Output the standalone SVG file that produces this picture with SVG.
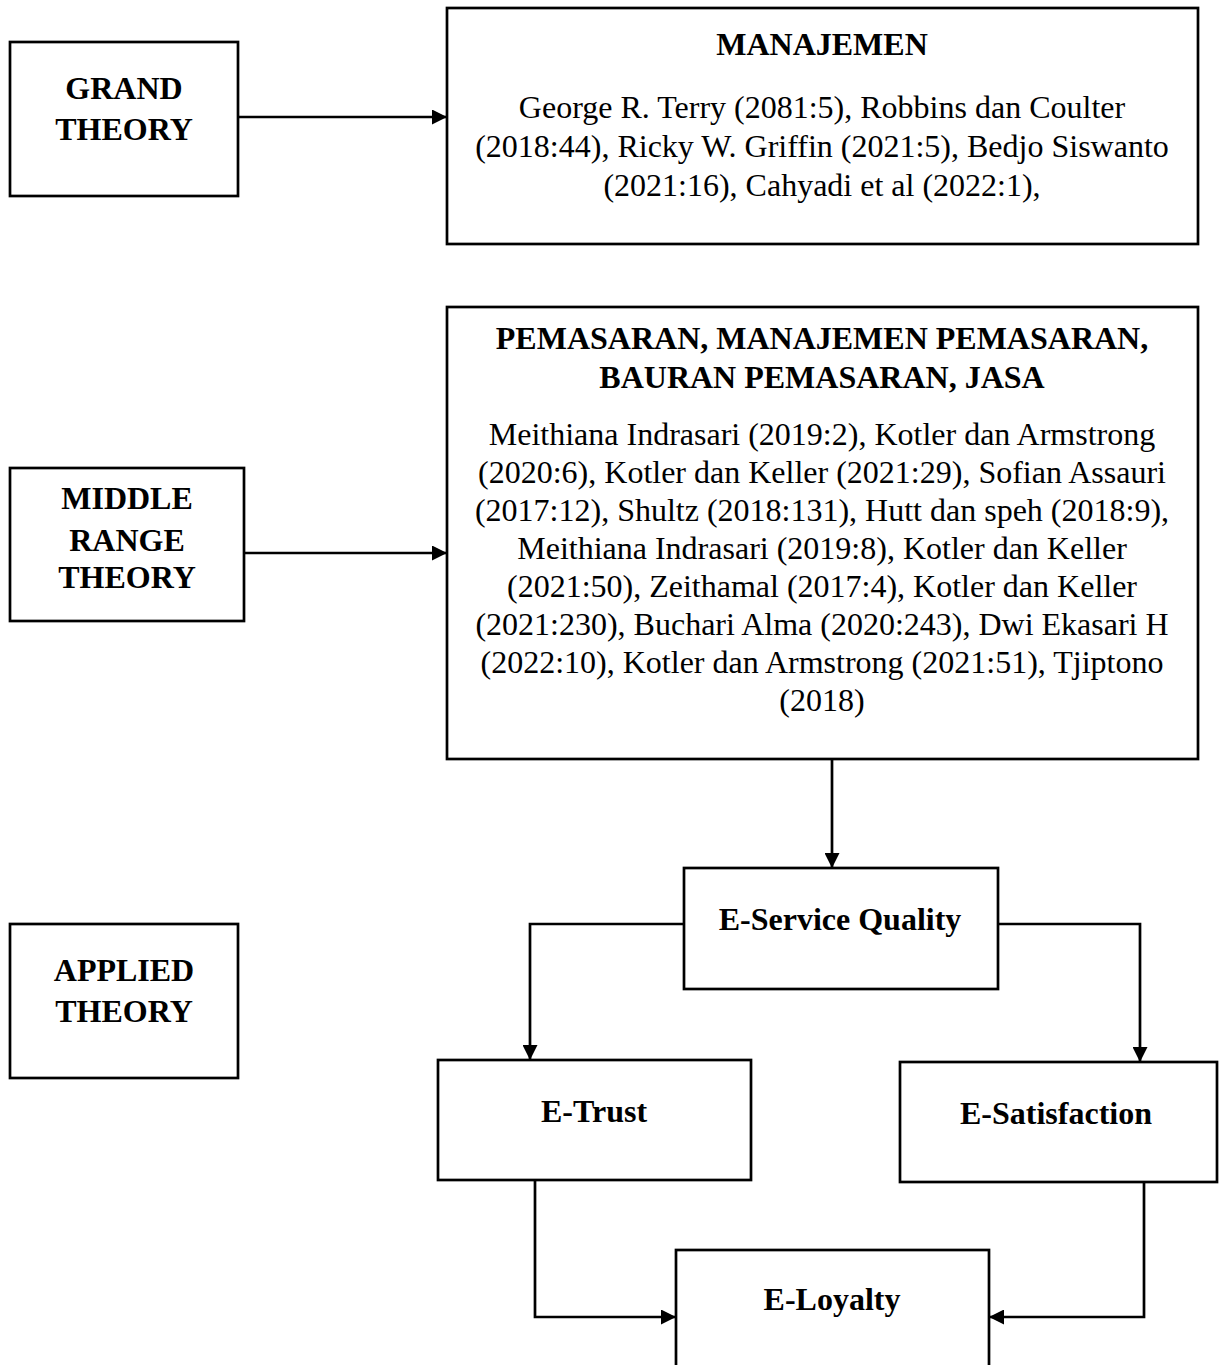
<svg xmlns="http://www.w3.org/2000/svg" width="1219" height="1365" viewBox="0 0 1219 1365">
<defs>
<style>
.box{fill:#fff;stroke:#000;stroke-width:2.7}
.t{font-family:"Liberation Serif","Times New Roman",serif;font-size:32px;fill:#000;text-anchor:middle}
.b{font-weight:bold}
.c{fill:none;stroke:#000;stroke-width:2.7}
</style>
<marker id="ah" viewBox="0 0 15 15" refX="15" refY="7.5" markerWidth="15" markerHeight="15" markerUnits="userSpaceOnUse" orient="auto">
<path d="M0,0 L15,7.5 L0,15 Z" fill="#000"/>
</marker>
</defs>
<g id="grand">
<rect class="box" x="10" y="42" width="228" height="154"/>
<text class="t b" x="124" y="99">GRAND</text>
<text class="t b" x="124" y="140">THEORY</text>
</g>
<g id="manajemen">
<rect class="box" x="447" y="8" width="751" height="236"/>
<text class="t b" x="822" y="55">MANAJEMEN</text>
<text class="t" x="822" y="118">George R. Terry (2081:5), Robbins dan Coulter</text>
<text class="t" x="822" y="157">(2018:44), Ricky W. Griffin (2021:5), Bedjo Siswanto</text>
<text class="t" x="822" y="196">(2021:16), Cahyadi et al (2022:1),</text>
</g>
<g id="middle">
<rect class="box" x="10" y="468" width="234" height="153"/>
<text class="t b" x="127" y="509">MIDDLE</text>
<text class="t b" x="127" y="551">RANGE</text>
<text class="t b" x="127" y="588">THEORY</text>
</g>
<g id="pemasaran">
<rect class="box" x="447" y="307" width="751" height="452"/>
<text class="t b" x="822" y="349">PEMASARAN, MANAJEMEN PEMASARAN,</text>
<text class="t b" x="822" y="388">BAURAN PEMASARAN, JASA</text>
<text class="t" x="822" y="445">Meithiana Indrasari (2019:2), Kotler dan Armstrong</text>
<text class="t" x="822" y="483">(2020:6), Kotler dan Keller (2021:29), Sofian Assauri</text>
<text class="t" x="822" y="521">(2017:12), Shultz (2018:131), Hutt dan speh (2018:9),</text>
<text class="t" x="822" y="559">Meithiana Indrasari (2019:8), Kotler dan Keller</text>
<text class="t" x="822" y="597">(2021:50), Zeithamal (2017:4), Kotler dan Keller</text>
<text class="t" x="822" y="635">(2021:230), Buchari Alma (2020:243), Dwi Ekasari H</text>
<text class="t" x="822" y="673">(2022:10), Kotler dan Armstrong (2021:51), Tjiptono</text>
<text class="t" x="822" y="711">(2018)</text>
</g>
<g id="applied">
<rect class="box" x="10" y="924" width="228" height="154"/>
<text class="t b" x="124" y="981">APPLIED</text>
<text class="t b" x="124" y="1022">THEORY</text>
</g>
<g id="eservice">
<rect class="box" x="684" y="868" width="314" height="121"/>
<text class="t b" x="840" y="930">E-Service Quality</text>
</g>
<g id="etrust">
<rect class="box" x="438" y="1060" width="313" height="120"/>
<text class="t b" x="594" y="1122">E-Trust</text>
</g>
<g id="esatisfaction">
<rect class="box" x="900" y="1062" width="317" height="120"/>
<text class="t b" x="1056" y="1124">E-Satisfaction</text>
</g>
<g id="eloyalty">
<rect class="box" x="676" y="1250" width="313" height="130"/>
<text class="t b" x="832" y="1310">E-Loyalty</text>
</g>
<g id="connectors">
<path class="c" d="M238,117 H447" marker-end="url(#ah)"/>
<path class="c" d="M244,553 H447" marker-end="url(#ah)"/>
<path class="c" d="M832,759 V868" marker-end="url(#ah)"/>
<path class="c" d="M684,924 H530 V1060" marker-end="url(#ah)"/>
<path class="c" d="M998,924 H1140 V1062" marker-end="url(#ah)"/>
<path class="c" d="M535,1180 V1317 H676" marker-end="url(#ah)"/>
<path class="c" d="M1144,1182 V1317 H989" marker-end="url(#ah)"/>
</g>
</svg>
